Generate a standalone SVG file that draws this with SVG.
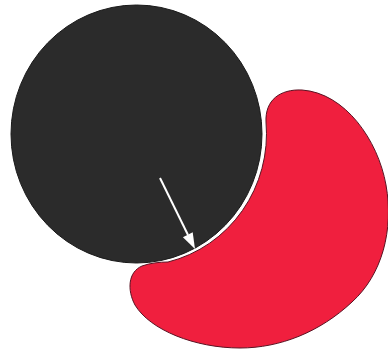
<svg xmlns="http://www.w3.org/2000/svg" width="388" height="352" viewBox="0 0 388 352">
<style>
.dark{fill:#2b2b2b;stroke:#1a1a1a;stroke-width:1}
.red{fill:#f01f3e;stroke:#5a1222;stroke-width:1}
.arrow{stroke:#ffffff;stroke-width:2;fill:none}
.head{fill:#ffffff}
</style>
<rect width="388" height="352" fill="#ffffff"/>
<g id="black-disc">
<ellipse class="dark" cx="136.5" cy="134" rx="125.5" ry="129"/>
</g>
<g id="red-crescent">
<path class="red" d="M 266,122 C 265,100 280,89 302,90 C 345,93 378,140 386,185 C 394,230 382,275 352,302 C 320,332 280,348 240,348 C 195,348 150,330 135,305 C 127,290 128,272 142,266 C 150,263 160,262 168,262 A 129 132 0 0 0 266,122 Z"/>
</g>
<g id="connectors">
<line class="arrow" x1="160" y1="178" x2="188" y2="235"/>
<polygon class="head" points="195,249 182.9,237.2 192.7,232.2"/>
</g>
</svg>
